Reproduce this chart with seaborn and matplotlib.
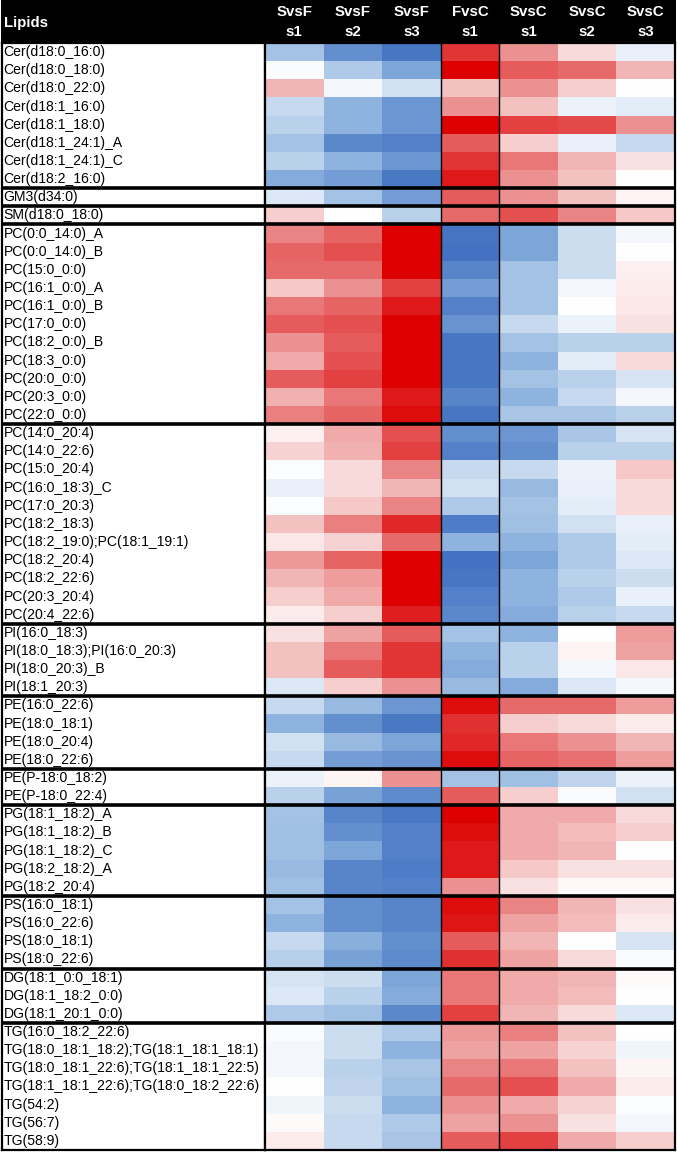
import numpy as np
import pandas as pd
import matplotlib
matplotlib.use("Agg")
import matplotlib.pyplot as plt
from matplotlib.colors import LinearSegmentedColormap
from matplotlib.transforms import blended_transform_factory
import seaborn as sns

sns.set_theme(style="white")
plt.rcParams['font.family'] = ['Liberation Sans', 'DejaVu Sans']

columns = ["SvsF s1", "SvsF s2", "SvsF s3", "FvsC s1", "SvsC s1", "SvsC s2", "SvsC s3"]
col_top = ["SvsF", "SvsF", "SvsF", "FvsC", "SvsC", "SvsC", "SvsC"]
col_bot = ["s1", "s2", "s3", "s1", "s1", "s2", "s3"]

lipids = [
    "Cer(d18:0_16:0)", "Cer(d18:0_18:0)", "Cer(d18:0_22:0)", "Cer(d18:1_16:0)",
    "Cer(d18:1_18:0)", "Cer(d18:1_24:1)_A", "Cer(d18:1_24:1)_C", "Cer(d18:2_16:0)",
    "GM3(d34:0)",
    "SM(d18:0_18:0)",
    "PC(0:0_14:0)_A", "PC(0:0_14:0)_B", "PC(15:0_0:0)", "PC(16:1_0:0)_A", "PC(16:1_0:0)_B",
    "PC(17:0_0:0)", "PC(18:2_0:0)_B", "PC(18:3_0:0)", "PC(20:0_0:0)", "PC(20:3_0:0)", "PC(22:0_0:0)",
    "PC(14:0_20:4)", "PC(14:0_22:6)", "PC(15:0_20:4)", "PC(16:0_18:3)_C", "PC(17:0_20:3)",
    "PC(18:2_18:3)", "PC(18:2_19:0);PC(18:1_19:1)", "PC(18:2_20:4)", "PC(18:2_22:6)",
    "PC(20:3_20:4)", "PC(20:4_22:6)",
    "PI(16:0_18:3)", "PI(18:0_18:3);PI(16:0_20:3)", "PI(18:0_20:3)_B", "PI(18:1_20:3)",
    "PE(16:0_22:6)", "PE(18:0_18:1)", "PE(18:0_20:4)", "PE(18:0_22:6)",
    "PE(P-18:0_18:2)", "PE(P-18:0_22:4)",
    "PG(18:1_18:2)_A", "PG(18:1_18:2)_B", "PG(18:1_18:2)_C", "PG(18:2_18:2)_A", "PG(18:2_20:4)",
    "PS(16:0_18:1)", "PS(16:0_22:6)", "PS(18:0_18:1)", "PS(18:0_22:6)",
    "DG(18:1_0:0_18:1)", "DG(18:1_18:2_0:0)", "DG(18:1_20:1_0:0)",
    "TG(16:0_18:2_22:6)", "TG(18:0_18:1_18:2);TG(18:1_18:1_18:1)",
    "TG(18:0_18:1_22:6);TG(18:1_18:1_22:5)", "TG(18:1_18:1_22:6);TG(18:0_18:2_22:6)",
    "TG(54:2)", "TG(56:7)", "TG(58:9)",
]

group_sizes = [8, 1, 1, 11, 11, 4, 4, 2, 5, 4, 3, 7]

svsf_s1 = [-0.40, -0.03, 0.30, -0.25, -0.30, -0.40, -0.30, -0.55,
           -0.15, 0.20,
           0.50, 0.62, 0.60, 0.22, 0.55, 0.65, 0.45, 0.35, 0.65, 0.32, 0.52,
           0.07, 0.18, -0.02, -0.10, -0.02, 0.25, 0.10, 0.42, 0.30, 0.20, 0.08,
           0.12, 0.25, 0.25, -0.15,
           -0.25, -0.50, -0.20, -0.25,
           -0.08, -0.30,
           -0.40, -0.42, -0.42, -0.45, -0.42,
           -0.40, -0.50, -0.25, -0.32,
           -0.18, -0.15, -0.35,
           -0.03, -0.05, -0.05, 0.00, -0.07, 0.02, 0.08]
svsf_s2 = [-0.75, -0.35, -0.05, -0.50, -0.50, -0.80, -0.50, -0.65,
           -0.40, 0.00,
           0.62, 0.70, 0.60, 0.45, 0.62, 0.70, 0.65, 0.70, 0.75, 0.55, 0.62,
           0.35, 0.32, 0.15, 0.15, 0.22, 0.52, 0.18, 0.62, 0.40, 0.35, 0.20,
           0.38, 0.55, 0.65, 0.20,
           -0.45, -0.75, -0.45, -0.65,
           0.04, -0.62,
           -0.82, -0.75, -0.60, -0.82, -0.82,
           -0.75, -0.75, -0.52, -0.62,
           -0.22, -0.30, -0.42,
           -0.22, -0.22, -0.30, -0.28, -0.22, -0.25, -0.25]
svsf_s3 = [-0.92, -0.60, -0.20, -0.70, -0.70, -0.85, -0.70, -0.90,
           -0.65, -0.30,
           1.00, 1.00, 1.00, 0.75, 0.90, 1.00, 1.00, 1.00, 1.00, 0.90, 0.95,
           0.70, 0.75, 0.50, 0.30, 0.50, 0.85, 0.60, 1.00, 1.00, 1.00, 0.88,
           0.65, 0.80, 0.80, 0.45,
           -0.70, -0.90, -0.60, -0.72,
           0.45, -0.78,
           -0.90, -0.85, -0.85, -0.88, -0.85,
           -0.82, -0.82, -0.75, -0.78,
           -0.60, -0.55, -0.80,
           -0.35, -0.50, -0.38, -0.42, -0.50, -0.35, -0.38]
fvsc_s1 = [0.80, 1.00, 0.25, 0.45, 1.00, 0.65, 0.80, 0.90,
           0.65, 0.60,
           -0.93, -0.95, -0.82, -0.65, -0.85, -0.72, -0.92, -0.92, -0.92, -0.82, -0.92,
           -0.75, -0.85, -0.25, -0.20, -0.35, -0.88, -0.50, -0.95, -0.92, -0.85, -0.80,
           -0.40, -0.50, -0.55, -0.45,
           0.95, 0.82, 0.85, 0.95,
           -0.40, 0.65,
           1.00, 0.95, 0.90, 0.90, 0.45,
           0.95, 0.92, 0.65, 0.82,
           0.55, 0.55, 0.75,
           0.42, 0.38, 0.50, 0.60, 0.45, 0.38, 0.65]
svsc_s1 = [0.45, 0.65, 0.45, 0.25, 0.75, 0.20, 0.55, 0.45,
           0.45, 0.70,
           -0.60, -0.60, -0.40, -0.40, -0.40, -0.25, -0.40, -0.50, -0.40, -0.50, -0.38,
           -0.70, -0.75, -0.25, -0.45, -0.40, -0.42, -0.50, -0.60, -0.50, -0.50, -0.55,
           -0.50, -0.30, -0.30, -0.55,
           0.60, 0.20, 0.55, 0.62,
           -0.42, 0.20,
           0.35, 0.35, 0.35, 0.22, 0.12,
           0.50, 0.38, 0.30, 0.38,
           0.35, 0.35, 0.30,
           0.52, 0.38, 0.55, 0.70, 0.35, 0.45, 0.75]
svsc_s2 = [0.15, 0.60, 0.20, -0.08, 0.72, -0.10, 0.30, 0.25,
           0.25, 0.50,
           -0.22, -0.22, -0.22, -0.05, 0.00, -0.08, -0.30, -0.12, -0.30, -0.25, -0.38,
           -0.38, -0.30, -0.08, -0.10, -0.12, -0.20, -0.35, -0.35, -0.30, -0.35, -0.30,
           0.00, 0.05, -0.05, -0.15,
           0.60, 0.15, 0.45, 0.58,
           -0.28, -0.03,
           0.35, 0.28, 0.30, 0.12, 0.03,
           0.30, 0.28, 0.00, 0.15,
           0.30, 0.28, 0.15,
           0.25, 0.18, 0.25, 0.35, 0.18, 0.12, 0.35]
svsc_s3 = [-0.10, 0.30, 0.00, -0.12, 0.45, -0.25, 0.12, 0.00,
           0.05, 0.22,
           -0.05, 0.00, 0.07, 0.08, 0.10, 0.12, -0.30, 0.15, -0.18, -0.05, -0.30,
           -0.18, -0.30, 0.22, 0.15, 0.15, -0.10, -0.12, -0.15, -0.22, -0.10, -0.25,
           0.40, 0.38, 0.10, -0.05,
           0.40, 0.08, 0.30, 0.40,
           -0.08, -0.20,
           0.15, 0.20, 0.00, 0.12, 0.03,
           0.12, 0.08, -0.18, -0.03,
           0.02, 0.00, -0.15,
           0.00, -0.07, 0.04, 0.08, -0.02, -0.05, 0.20]

df = pd.DataFrame({
    "SvsF s1": svsf_s1, "SvsF s2": svsf_s2, "SvsF s3": svsf_s3,
    "FvsC s1": fvsc_s1, "SvsC s1": svsc_s1, "SvsC s2": svsc_s2, "SvsC s3": svsc_s3,
}, index=lipids)[columns]

cmap = LinearSegmentedColormap.from_list(
    "bwr_custom",
    [(0.0, "#3a6bbe"), (0.25, "#8db3de"), (0.5, "#ffffff"), (0.75, "#ea8585"), (1.0, "#dc0000")])

W, H = 677, 1152
fig = plt.figure(figsize=(W / 100, H / 100), dpi=100)
fig.patch.set_facecolor("white")

top_px, bot_px = 43, 1150
hm_left, hm_right = 265, 675
lab_left = 2

# header
ax_head = fig.add_axes([1 / W, 1 - 43 / H, 675 / W, 43 / H])
ax_head.set_facecolor("black")
ax_head.set_xticks([]); ax_head.set_yticks([])
for s in ax_head.spines.values():
    s.set_visible(False)
ax_head.text(3 / 675, 0.47, "Lipids", color="white", fontweight="bold",
             fontsize=10.8, ha="left", va="center", transform=ax_head.transAxes)

# heatmap
ax_hm = fig.add_axes([hm_left / W, 1 - bot_px / H, (hm_right - hm_left) / W, (bot_px - top_px) / H])
ax_hm.set_zorder(3)
sns.heatmap(df, ax=ax_hm, cmap=cmap, vmin=-1, vmax=1, cbar=False,
            xticklabels=False, yticklabels=False)
ax_hm.set_xlabel(""); ax_hm.set_ylabel("")

tr = blended_transform_factory(ax_hm.transData, fig.transFigure)
for i, (t, b) in enumerate(zip(col_top, col_bot)):
    ax_hm.text(i + 0.5, 1 - 12 / H, t, color="white", fontweight="bold", fontsize=10.8,
               ha="center", va="center", transform=tr, clip_on=False)
    ax_hm.text(i + 0.5, 1 - 32 / H, b, color="white", fontweight="bold", fontsize=10.8,
               ha="center", va="center", transform=tr, clip_on=False)

# label column
ax_lab = fig.add_axes([lab_left / W, 1 - bot_px / H, (hm_left - lab_left) / W, (bot_px - top_px) / H])
ax_lab.set_xlim(0, 1)
ax_lab.set_ylim(len(lipids), 0)
ax_lab.set_xticks([]); ax_lab.set_yticks([])
ax_lab.set_facecolor("white")
for i, name in enumerate(lipids):
    ax_lab.text(0.006, i + 0.5, name, fontsize=10.1, ha="left", va="center", color="black")

# separators
bounds = np.cumsum(group_sizes)[:-1]
for b in bounds:
    ax_hm.axhline(b, color="black", lw=2.6)
    ax_lab.axhline(b, color="black", lw=2.6)
for x in [3, 4]:
    ax_hm.axvline(x, color="black", lw=1.0)

for ax in (ax_hm, ax_lab):
    for s in ax.spines.values():
        s.set_visible(True)
        s.set_color("black")
        s.set_linewidth(1.6)

fig.savefig("out.png", dpi=100, facecolor="white")
